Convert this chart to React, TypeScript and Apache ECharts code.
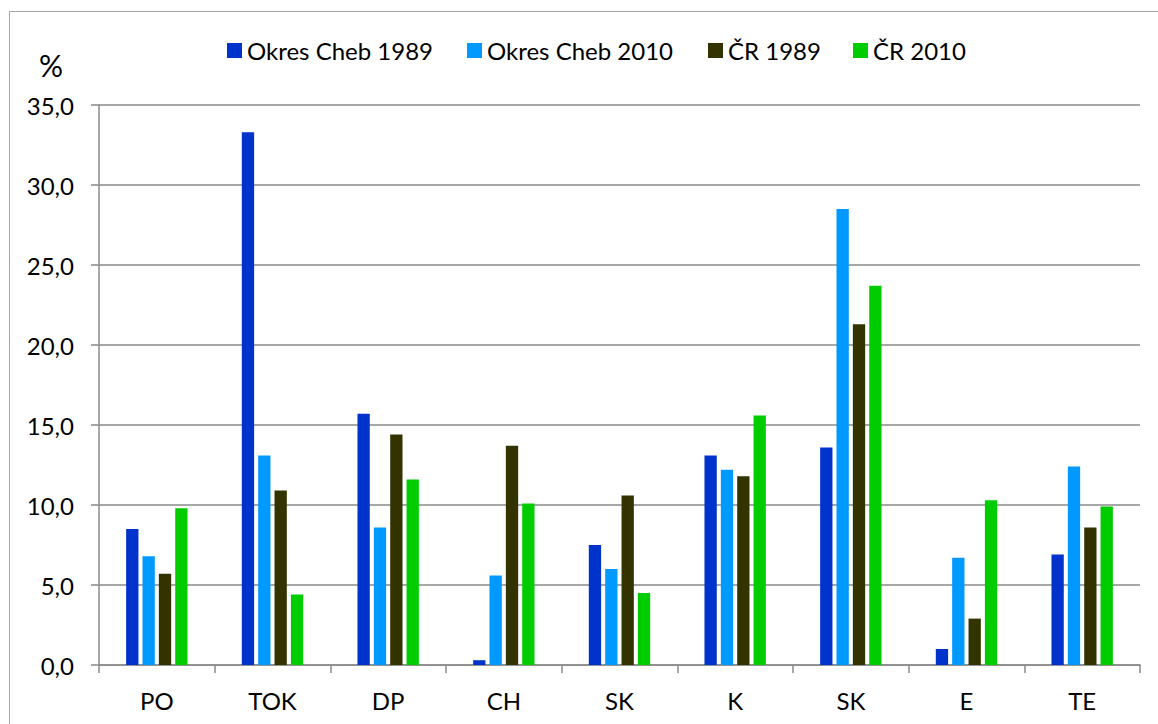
import React, { useEffect, useRef } from "react";
import * as echarts from "echarts";

const categories = ["PO", "TOK", "DP", "CH", "SK", "K", "SK", "E", "TE"];
const seriesNames = ["Okres Cheb 1989", "Okres Cheb 2010", "ČR 1989", "ČR 2010"];
const cheb1989 = [8.5, 33.3, 15.7, 0.3, 7.5, 13.1, 13.6, 1.0, 6.9];
const cheb2010 = [6.8, 13.1, 8.6, 5.6, 6.0, 12.2, 28.5, 6.7, 12.4];
const cr1989 = [5.7, 10.9, 14.4, 13.7, 10.6, 11.8, 21.3, 2.9, 8.6];
const cr2010 = [9.8, 4.4, 11.6, 10.1, 4.5, 15.6, 23.7, 10.3, 9.9];
const colors = ["#0033CC", "#0099FF", "#333300", "#00CC00"];
const legendLefts = [227, 467, 708, 853];

const FONT = "Lato";

export default function App() {
  const ref = useRef<HTMLDivElement>(null);
  useEffect(() => {
    if (!ref.current) return;
    const chart = echarts.init(ref.current, null, { renderer: "svg" });
    const values = [cheb1989, cheb2010, cr1989, cr2010];
    const gray = "#8a8a8a";
    chart.setOption({
      animation: false,
      backgroundColor: "#ffffff",
      textStyle: { fontFamily: FONT },
      grid: { left: 99, right: 18, top: 105, bottom: 59, containLabel: false },
      legend: seriesNames.map((n, i) => ({
        data: [n],
        left: legendLefts[i],
        top: 38,
        padding: 0,
        itemWidth: 15,
        itemHeight: 15,
        icon: "rect",
        textStyle: { fontSize: 24, color: "#000", fontFamily: FONT, lineHeight: 25 },
      })),
      graphic: [
        {
          type: "rect",
          shape: { x: 9.5, y: 11.5, width: 1170, height: 730 },
          style: { fill: "none", stroke: "#a6a6a6", lineWidth: 1 },
          silent: true,
        },
        {
          type: "text",
          x: 51,
          y: 65,
          style: {
            text: "%",
            fontSize: 30,
            fontFamily: FONT,
            fill: "#000",
            align: "center",
            verticalAlign: "middle",
          },
        },
      ],
      xAxis: {
        type: "category",
        data: categories,
        boundaryGap: true,
        axisLine: { show: true, lineStyle: { color: gray, width: 1.5 } },
        axisTick: { show: true, length: 8, interval: 0, lineStyle: { color: gray, width: 1.5 } },
        axisLabel: { fontSize: 24, color: "#000", margin: 23, fontFamily: FONT, interval: 0 },
        splitLine: { show: false },
      },
      yAxis: {
        type: "value",
        min: 0,
        max: 35,
        interval: 5,
        axisLine: { show: true, lineStyle: { color: gray, width: 1.5 } },
        axisTick: { show: true, length: 8, lineStyle: { color: gray, width: 1.5 } },
        axisLabel: {
          fontSize: 24,
          color: "#000",
          margin: 25,
          fontFamily: FONT,
          formatter: (v: number) => v.toFixed(1).replace(".", ","),
        },
        splitLine: { show: true, lineStyle: { color: gray, width: 1.5 } },
      },
      series: seriesNames.map((n, i) => ({
        name: n,
        type: "bar",
        data: values[i],
        barWidth: 12.3,
        barGap: "33%",
        itemStyle: { color: colors[i] },
      })),
    });
    return () => chart.dispose();
  }, []);
  return (
    <div
      ref={ref}
      style={{ position: "fixed", left: 0, top: 0, width: 1158, height: 724 }}
    />
  );
}
